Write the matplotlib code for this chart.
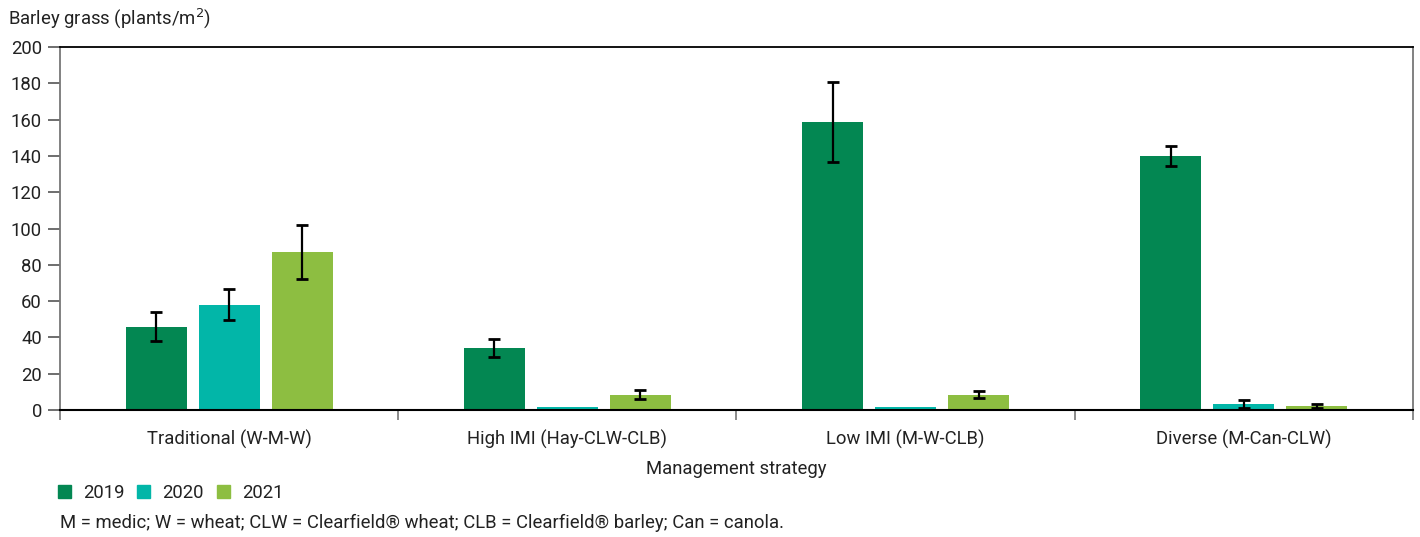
import matplotlib
matplotlib.use("Agg")
import matplotlib.pyplot as plt
from matplotlib.patches import Patch
import numpy as np

# data
strategies = ["Traditional (W-M-W)", "High IMI (Hay-CLW-CLB)",
              "Low IMI (M-W-CLB)", "Diverse (M-Can-CLW)"]
years = ["2019", "2020", "2021"]
means_2019 = [46, 34, 158.5, 140]
means_2020 = [58, 1.5, 1.5, 3.3]
means_2021 = [87, 8.3, 8.5, 2.2]
err_2019 = [8, 5, 22, 5.5]
err_2020 = [8.5, 0, 0, 2]
err_2021 = [15, 2.5, 2, 1.2]

colors = ["#038752", "#02b6a8", "#8dbe41"]
text_col = "#222222"

plt.rcParams['font.family'] = ['Roboto', 'DejaVu Sans']
plt.rcParams['font.size'] = 13.3
plt.rcParams['text.color'] = text_col

fig = plt.figure(figsize=(14.2, 5.37), dpi=100)
ax = fig.add_axes([60 / 1420, 1 - 410 / 537, 1353 / 1420, 363 / 537])

x = np.arange(len(strategies))
width = 0.18
step = 0.216
means = [means_2019, means_2020, means_2021]
errs = [err_2019, err_2020, err_2021]
for i, (m, e) in enumerate(zip(means, errs)):
    pos = x + (i - 1) * step
    ax.bar(pos, m, width=width, color=colors[i], zorder=2)
    m = np.array(m)
    e = np.array(e)
    keep = e > 0  # no error bar drawn on the near-zero bars
    ax.errorbar(pos[keep], m[keep], yerr=e[keep], fmt="none", ecolor="black",
                elinewidth=1.6, capsize=4.5, capthick=2, zorder=3)

ax.set_xlim(-0.5, 3.5)
ax.set_ylim(0, 200)
ax.set_yticks(range(0, 201, 20))
ax.set_xticks(x)
ax.set_xticklabels(strategies)
ax.set_xticks(np.arange(-0.5, 3.6, 1), minor=True)

ax.tick_params(axis="x", which="major", length=0, pad=14, colors=text_col)
ax.tick_params(axis="x", which="minor", length=7.5, width=1.2, color="#777777")
ax.tick_params(axis="y", length=9, width=1.2, color="#555555",
               labelcolor=text_col, pad=4)

ax.spines["left"].set_color("#777777")
ax.spines["right"].set_color("#777777")
ax.spines["left"].set_linewidth(1.3)
ax.spines["right"].set_linewidth(1.3)
ax.spines["top"].set_color("black")
ax.spines["bottom"].set_color("black")
ax.spines["top"].set_linewidth(1.3)
ax.spines["bottom"].set_linewidth(1.5)

ax.set_xlabel("Management strategy", labelpad=8, color=text_col)
fig.text(8 / 1420, 1 - 18 / 537, "Barley grass (plants/m$^2$)",
         ha="left", va="center")

handles = [Patch(color=c) for c in colors]
fig.legend(handles, years, loc="center left",
           bbox_to_anchor=(58 / 1420, 1 - 493 / 537), ncol=3,
           frameon=False, handlelength=0.7, handleheight=0.7,
           handletextpad=0.65, columnspacing=0.7, borderpad=0,
           borderaxespad=0)

fig.text(60 / 1420, 1 - 523 / 537,
         "M = medic; W = wheat; CLW = Clearfield® wheat; "
         "CLB = Clearfield® barley; Can = canola.",
         ha="left", va="center")

fig.savefig("out.png", dpi=100)
